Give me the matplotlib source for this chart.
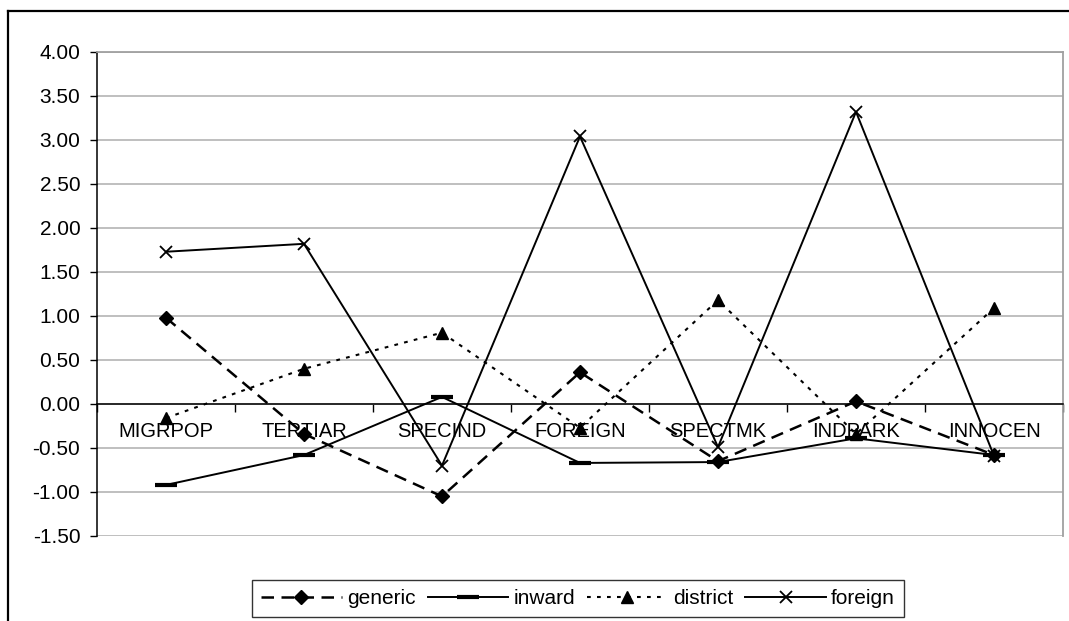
import matplotlib
matplotlib.use("Agg")
import matplotlib.pyplot as plt
from matplotlib.lines import Line2D
from matplotlib.ticker import FixedLocator, FormatStrFormatter

plt.rcParams["font.family"] = ["Liberation Sans", "DejaVu Sans"]
plt.rcParams["axes.unicode_minus"] = False

# Data
categories = ["MIGRPOP", "TERTIAR", "SPECIND", "FOREIGN", "SPECTMK", "INDPARK", "INNOCEN"]
generic = [0.98, -0.34, -1.05, 0.36, -0.65, 0.03, -0.58]
inward = [-0.92, -0.58, 0.08, -0.67, -0.66, -0.39, -0.58]
district = [-0.16, 0.40, 0.81, -0.27, 1.18, -0.34, 1.09]
foreign = [1.73, 1.82, -0.70, 3.04, -0.49, 3.32, -0.59]
y_ticks = [-1.5, -1.0, -0.5, 0.0, 0.5, 1.0, 1.5, 2.0, 2.5, 3.0, 3.5, 4.0]

fig = plt.figure(figsize=(10.69, 6.21), dpi=100)
ax = fig.add_axes([0.0907, 0.1369, 0.9037, 0.7794])

x = list(range(len(categories)))

ax.plot(x, generic, color="black", lw=1.8, ls=(0, (5, 3)),
        marker="D", ms=7.5, label="generic")
ax.plot(x, inward, color="black", lw=1.4, ls="-",
        marker="_", ms=16, mew=3, label="inward")
ax.plot(x, district, color="black", lw=1.5, ls=(0, (1.8, 3)),
        marker="^", ms=9, label="district")
ax.plot(x, foreign, color="black", lw=1.4, ls="-",
        marker="x", ms=9, mew=1.3, label="foreign")

ax.set_xlim(-0.5, len(categories) - 0.5)
ax.set_ylim(-1.5, 4.0)

# y axis
ax.yaxis.set_major_locator(FixedLocator(y_ticks))
ax.yaxis.set_major_formatter(FormatStrFormatter("%.2f"))
ax.tick_params(axis="y", direction="out", length=5, width=1, pad=7,
               labelsize=15, colors="black")
ax.grid(axis="y", color="#b4b4b4", lw=1.2)
ax.set_axisbelow(True)

# category axis crossing at zero
ax.spines["bottom"].set_position(("data", 0))
ax.spines["bottom"].set_color("black")
ax.spines["bottom"].set_linewidth(1.1)
ax.xaxis.set_major_locator(FixedLocator([i - 0.5 for i in range(len(categories) + 1)]))
ax.xaxis.set_major_formatter(plt.NullFormatter())
ax.xaxis.set_minor_locator(FixedLocator(x))
ax.set_xticklabels(categories, minor=True)
ax.tick_params(axis="x", which="major", direction="out", length=6, width=1)
ax.tick_params(axis="x", which="minor", length=0, pad=13, labelsize=14.5)

ax.spines["left"].set_color("black")
ax.spines["left"].set_linewidth(1.1)
for side in ("top", "right"):
    ax.spines[side].set_color("#a0a0a0")
    ax.spines[side].set_linewidth(1.3)

leg = fig.legend(loc="center", bbox_to_anchor=(0.5407, 0.0362), ncol=4,
                 fontsize=15, frameon=True, fancybox=False,
                 handlelength=3.85, handletextpad=0.25, columnspacing=0.6,
                 borderpad=0.45, borderaxespad=0)
leg.get_frame().set_edgecolor("black")
leg.get_frame().set_linewidth(1.0)

# outer chart frame (left and top edges)
fig.add_artist(Line2D([0.0075, 0.0075], [0.0, 0.9815], transform=fig.transFigure,
                      color="black", lw=1.6))
fig.add_artist(Line2D([0.0075, 1.0], [0.9815, 0.9815], transform=fig.transFigure,
                      color="black", lw=1.6))

fig.savefig("out.png", dpi=100)
